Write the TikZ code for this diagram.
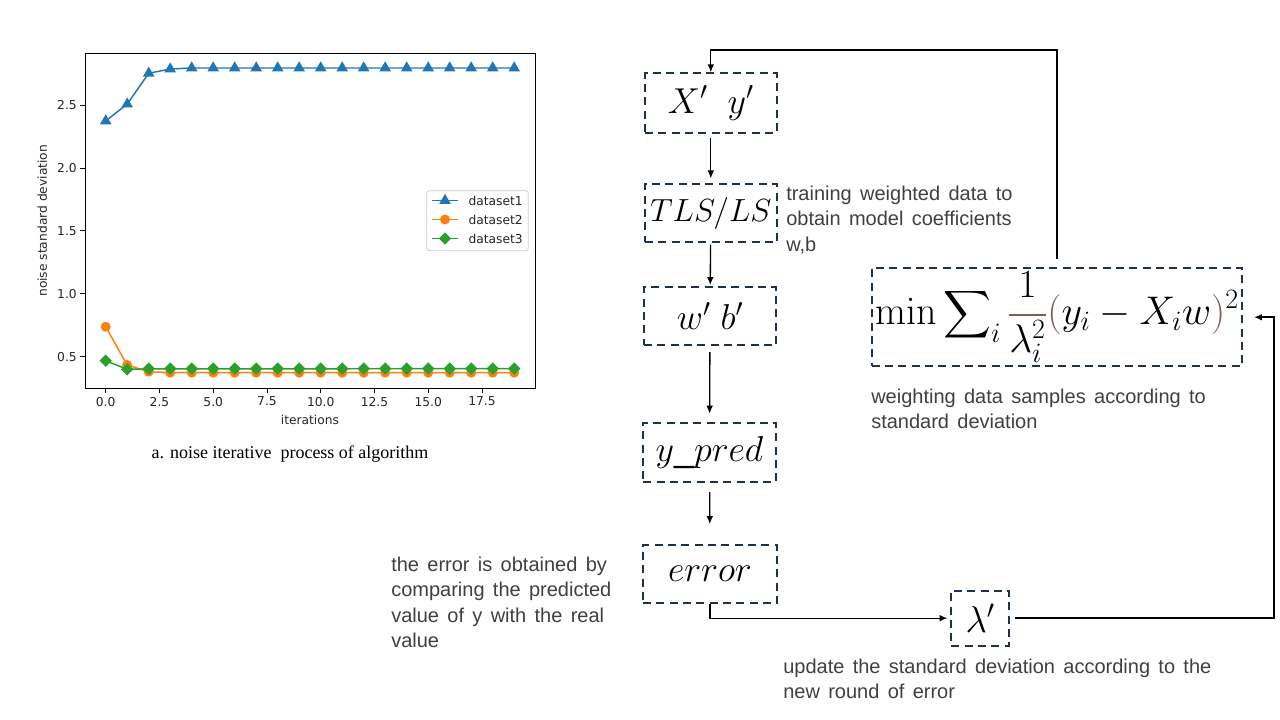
\RequirePackage{fix-cm}
\documentclass[tikz,border=0pt]{standalone}
\usepackage{amsmath}
\usepackage{exscale}
\usepackage[no-math]{fontspec}
\setmainfont{Liberation Sans}
\newfontfamily\plotfont{DejaVu Sans}
\newfontfamily\capfont{Liberation Serif}
\newfontfamily\annfont[WordSpace=1.5]{Liberation Sans}
\usetikzlibrary{arrows.meta,shapes.geometric}
\definecolor{navy}{HTML}{1F3050}
\definecolor{anngray}{HTML}{404040}
\definecolor{fbrown}{HTML}{7A5E58}
\definecolor{mplA}{HTML}{1F77B4}
\definecolor{mplB}{HTML}{FF7F0E}
\definecolor{mplC}{HTML}{2CA02C}
\tikzset{
  fbox/.style={draw=navy, line width=1.4pt, dash pattern=on 6pt off 4pt, inner sep=0pt, minimum width=#1},
  conn/.style={draw=black, line width=1pt, -{Latex[length=6pt,width=5pt]}},
  ann/.style={anchor=north west, inner sep=0pt, align=left, text=anngray, font=\annfont\fontsize{15}{18.9}\selectfont},
  mathbig/.style={font=\fontsize{27}{30}\selectfont},
  tick/.style={font=\plotfont\fontsize{9.2}{11}\selectfont, text=black!85, inner sep=0pt},
  mkA/.style={regular polygon, regular polygon sides=3, fill=mplA, inner sep=0pt, minimum size=10pt},
  mkB/.style={circle, fill=mplB, inner sep=0pt, minimum size=7.5pt},
  mkC/.style={diamond, fill=mplC, inner sep=0pt, minimum width=9.5pt, minimum height=9.5pt},
}
\begin{document}
\begin{tikzpicture}[x=0.75pt,y=-0.75pt]
\useasboundingbox (0,0) rectangle (1280,720);
\fill[white] (0,0) rectangle (1280,720);

% ---------------- plot ----------------
\begin{scope}[x={(16.125pt,0pt)}, y={(0pt,94.35pt)}, shift={(79.275pt,-314.7pt)}]
  \draw[line width=0.6pt] (-0.963,0.251) rectangle (19.967,2.914);
  % y ticks
  \foreach \v in {0.5,1.0,1.5,2.0,2.5} {
    \draw[line width=0.6pt] (-0.963,\v) -- ++(-3.5pt,0);
    \node[tick, anchor=east] at ([xshift=-6pt]-0.963,\v) {\v};
  }
  % x ticks
  \foreach \v in {0.0,2.5,5.0,7.5,10.0,12.5,15.0,17.5} {
    \draw[line width=0.6pt] (\v,0.251) -- ++(0,-3.5pt);
    \node[tick, anchor=north] at ([yshift=-6.5pt]\v,0.251) {\v};
  }
  \node[tick] at (9.5,-0.005) {iterations};
  \node[tick, rotate=90] at (-2.95,1.58) {noise standard deviation};
  % dataset1
  \draw[mplA, line width=1.1pt] (0,2.374) -- (1,2.508) -- (2,2.753) -- (3,2.787) -- (4,2.795) -- (19,2.795);
  \foreach \x/\y in {0/2.374,1/2.508,2/2.753,3/2.787} \node[mkA] at (\x,\y) {};
  \foreach \x in {4,...,19} \node[mkA] at (\x,2.795) {};
  % dataset2
  \draw[mplB, line width=1.1pt] (0,0.738) -- (1,0.434) -- (2,0.381) -- (3,0.373) -- (19,0.373);
  \foreach \x/\y in {0/0.738,1/0.434,2/0.381} \node[mkB] at (\x,\y) {};
  \foreach \x in {3,...,19} \node[mkB] at (\x,0.373) {};
  % dataset3
  \draw[mplC, line width=1.1pt] (0,0.468) -- (1,0.400) -- (2,0.403) -- (19,0.405);
  \foreach \x/\y in {0/0.468,1/0.400} \node[mkC] at (\x,\y) {};
  \foreach \x in {2,...,19} \node[mkC] at (\x,0.405) {};
\end{scope}
% legend
\draw[rounded corners=2pt, draw=black!20, fill=white, line width=0.6pt] (426.7,190.7) rectangle (528.3,250.7);
\draw[mplA, line width=1.1pt] (431.7,200.5) -- (458.3,200.5);
\node[mkA] at (445,200.5) {};
\node[tick, anchor=west] at (468.3,200.5) {dataset1};
\draw[mplB, line width=1.1pt] (431.7,219.5) -- (458.3,219.5);
\node[mkB] at (445,219.5) {};
\node[tick, anchor=west] at (468.3,219.5) {dataset2};
\draw[mplC, line width=1.1pt] (431.7,238.5) -- (458.3,238.5);
\node[mkC] at (445,238.5) {};
\node[tick, anchor=west] at (468.3,238.5) {dataset3};
\node[font=\capfont\fontsize{13.5}{15}\selectfont] (cap) at (290,454) {a. noise iterative\ \ process of algorithm};

% ---------------- flowchart ----------------
\node[fbox=98.8pt, minimum height=44.5pt, mathbig] (b1) at (710.8,103) {$X'\ \ y'$};
\node[fbox=98.8pt, minimum height=43.7pt, font=\fontsize{24}{28}\selectfont] (b2) at (710.8,213.2) {$TLS/LS$};
\node[fbox=99pt, minimum height=43.5pt, mathbig] (b3) at (710,316.3) {$w'\;b'$};
\node[fbox=99.5pt, minimum height=44.5pt, mathbig] (b4) at (709.5,452.3) {$y\_pred$};
\node[fbox=100.5pt, minimum height=43.7pt, mathbig] (b5) at (710,574.2) {$error$};
\node[fbox=43.4pt, minimum height=41.3pt, font=\fontsize{28}{30}\selectfont] (b6) at (980.1,618.2) {$\lambda'$};
\node[fbox=278pt, minimum height=73.3pt, font=\fontsize{30}{34}\selectfont] (fm) at (1057,317.2)
  {$\displaystyle \min\sum\nolimits_i {\color{fbrown}\frac{\color{black}1}{\color{black}\lambda_i^2}}{\color{fbrown}(}y_i-X_iw{\color{fbrown})}^2$};

\coordinate (topy) at (0,50);
\coordinate (rx) at (1274,400);

\draw[conn, shorten <=3pt, shorten >=3.5pt] (b1) -- (b2);
\draw[conn, shorten <=1pt, shorten >=1pt] (b2) -- (b3);
\draw[conn, shorten <=4.5pt, shorten >=6pt] (b3) -- (b4);
\draw[conn, shorten <=7pt, shorten >=15pt] (b4) -- (b5);
\draw[conn, shorten >=2pt] (b5.south) |- (b6.west);
\draw[conn, shorten <=6pt] (fm.north) -- (fm.north |- topy) -| (b1.north);
\draw[conn, line width=1.5pt, shorten <=4pt, shorten >=8pt] (b6.east) -- (b6.east -| rx) |- (fm.east);

% annotations
\node[ann] (a1) at (786,186) {training weighted data to\\obtain model coefficients\\w,b};
\node[ann] (a2) at (871,389) {weighting data samples according to\\standard deviation};
\node[ann] (a3) at (391,557) {the error is obtained by\\comparing the predicted\\value of y with the real\\value};
\node[ann] (a4) at (783,659) {update the standard deviation according to the\\new round of error};
\end{tikzpicture}
\end{document}
